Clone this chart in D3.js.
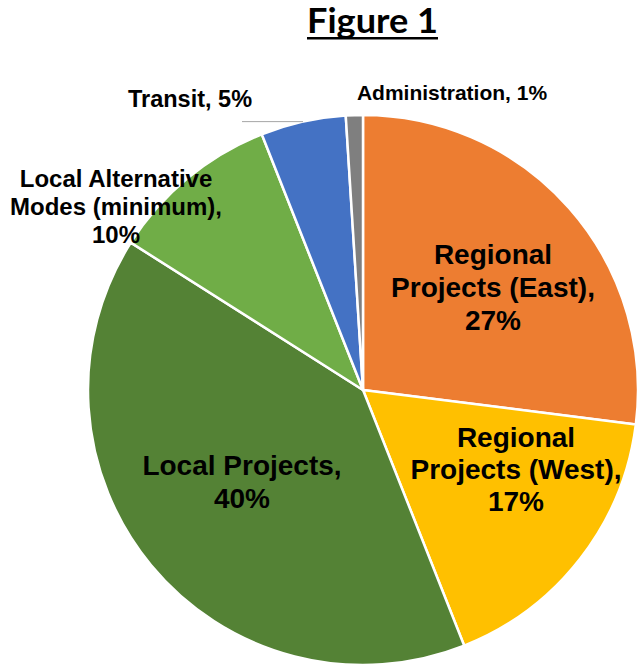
<!DOCTYPE html>
<html>
<head>
<meta charset="utf-8">
<script src="https://cdn.jsdelivr.net/npm/d3@7"></script>
<style>
    body { margin: 0; background: #fff; }
    svg text { font-family: "Liberation Sans", Arial, sans-serif; font-weight: bold; fill: #000; }
</style>
</head>
<body>
<div id="chart"></div>
<script>
// data, clockwise from 12 o'clock
let categories = ["Regional Projects (East)", "Regional Projects (West)", "Local Projects",
    "Local Alternative Modes (minimum)", "Transit", "Administration"];
let shares = [27, 17, 40, 10, 5, 1];
let sliceColors = ["#ED7D31", "#FFC000", "#548235", "#70AD47", "#4472C4", "#7F7F7F"];

// how each label wraps in the picture
let labelLines = [
    ["Regional", "Projects (East),", "27%"],
    ["Regional", "Projects (West),", "17%"],
    ["Local Projects,", "40%"],
    ["Local Alternative", "Modes (minimum),", "10%"],
    ["Transit, 5%"],
    ["Administration, 1%"]
];

// label layout: anchor of first baseline, font size, line height
let labelLayout = [
    {x: 493, y: 264, size: 28, lh: 33},
    {x: 516, y: 447, size: 28, lh: 32},
    {x: 242, y: 475, size: 28, lh: 33},
    {x: 116, y: 187, size: 24, lh: 28},
    {x: 190, y: 107, size: 23.5, lh: 0},
    {x: 452, y: 100, size: 21, lh: 0}
];

let width = 637, height = 670;
let cx = 363, cy = 390, radius = 275;

let svg = d3.select("#chart").append("svg")
    .attr("width", width)
    .attr("height", height);

// title
let title = svg.append("text")
    .attr("x", 372.5)
    .attr("y", 33)
    .attr("text-anchor", "middle")
    .attr("textLength", 131)
    .attr("lengthAdjust", "spacingAndGlyphs")
    .style("font-family", "Lato, 'Open Sans', sans-serif")
    .style("font-size", "34px")
    .text("Figure 1");

svg.append("rect")
    .attr("x", 372.5 - 131 / 2)
    .attr("y", 37)
    .attr("width", 131)
    .attr("height", 2.5)
    .attr("fill", "#000");

let data = categories.map((c, i) => ({name: c, value: shares[i], color: sliceColors[i], i: i}));

let pie = d3.pie()
    .sort(null)
    .value(d => d.value);

let arc = d3.arc()
    .innerRadius(0)
    .outerRadius(radius);

let rim = d3.arc()
    .innerRadius(radius)
    .outerRadius(radius);

let g = svg.append("g")
    .attr("transform", "translate(" + cx + "," + cy + ")");

let arcs = pie(data);

g.selectAll("path.slice")
    .data(arcs)
    .enter()
    .append("path")
    .attr("class", "slice")
    .attr("d", arc)
    .attr("fill", d => d.data.color)
    .attr("stroke", "#fff")
    .attr("stroke-width", 2.5)
    .attr("stroke-linejoin", "round");

// leader line for Transit
let transit = arcs[4];
let p = rim.centroid(transit);
svg.append("line")
    .attr("x1", cx + p[0])
    .attr("y1", cy + p[1])
    .attr("x2", 242)
    .attr("y2", cy + p[1])
    .attr("stroke", "#A6A6A6")
    .attr("stroke-width", 1);

// labels
labelLines.forEach((lines, i) => {
    let lay = labelLayout[i];
    let t = svg.append("text")
        .attr("text-anchor", "middle")
        .style("font-size", lay.size + "px");
    lines.forEach((line, j) => {
        t.append("tspan")
            .attr("x", lay.x)
            .attr("y", lay.y + j * lay.lh)
            .text(line);
    });
});
</script>
</body>
</html>
